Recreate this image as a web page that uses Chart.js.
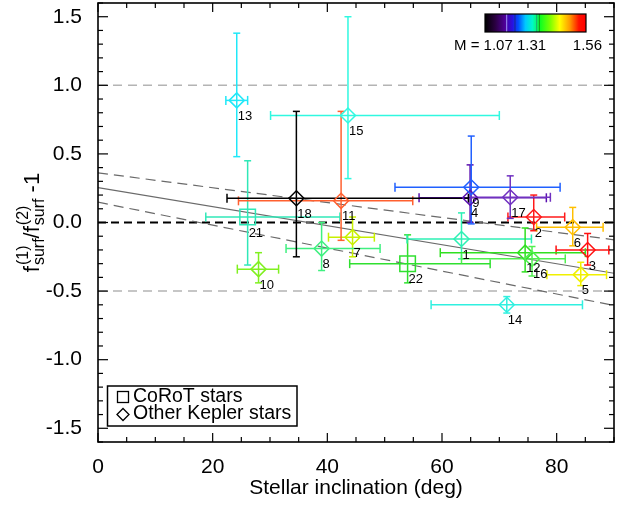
<!DOCTYPE html>
<html><head><meta charset="utf-8">
<script src="https://cdn.jsdelivr.net/npm/chart.js@4.4.0/dist/chart.umd.min.js"></script>
<style>html,body{margin:0;padding:0;background:#fff;}#wrap{width:627px;height:506px;}</style>
</head><body><div id="wrap"><canvas id="c" width="627" height="506"></canvas></div>
<script>
// ---------- data ----------
const keplerIds    = ['1','2','3','4','5','6','7','8','9','10','11','12','13','14','15','16','17','18'];
const keplerIncl   = [63.4, 76.0, 85.4, 64.9, 84.2, 82.8, 44.4, 39.0, 65.1, 28.0, 42.4, 74.5, 24.2, 71.3, 43.6, 75.7, 71.9, 34.6];
const keplerF      = [-0.12, 0.04, -0.20, 0.18, -0.38, -0.034, -0.107, -0.19, 0.257, -0.34, 0.158, -0.22, 0.89, -0.60, 0.78, -0.265, 0.184, 0.177];
const keplerInclLo = [53.9, 71.5, 79.9, 56.0, 78.3, 76.5, 40.2, 32.8, 51.8, 24.3, 24.5, 59.7, 22.3, 58.1, 30.1, 63.4, 65.1, 22.5];
const keplerInclHi = [75.6, 81.4, 89.1, 78.2, 88.7, 88.1, 48.2, 49.2, 80.6, 31.5, 54.9, 85.0, 26.1, 84.5, 70.0, 81.5, 78.9, 64.6];
const keplerFLo    = [-0.265, -0.06, -0.31, 0.00, -0.46, -0.17, -0.25, -0.35, -0.01, -0.44, -0.13, -0.36, 0.48, -0.66, 0.32, -0.39, 0.03, -0.25];
const keplerFHi    = [0.07, 0.20, -0.08, 0.42, -0.29, 0.11, 0.04, 0.00, 0.63, -0.22, 0.81, -0.04, 1.38, -0.54, 1.50, -0.175, 0.34, 0.81];

const corotIds    = ['21','22'];
const corotIncl   = [26.1, 54.0];
const corotF      = [0.04, -0.30];
const corotInclLo = [18.8, 43.9];
const corotInclHi = [42.2, 68.4];
const corotFLo    = [-0.31, -0.44];
const corotFHi    = [0.45, -0.09];

// reference levels and fit
const refLevels = [1.0, 0.0, -0.5];
const fitX      = [0, 90];
const fitMid    = [0.255, -0.37];
const fitUpper  = [0.362, -0.126];
const fitLower  = [0.148, -0.605];

// ticks
const xTickValues = [0, 20, 40, 60, 80];
const yTickValues = [-1.5, -1.0, -0.5, 0.0, 0.5, 1.0, 1.5];
const colorbarLabels = ['M = 1.07 1.31', '1.56'];

// ---------- styles (kept separate) ----------
const keplerColors = ['#2cf0b4','#ff1a1a','#ff1010','#5a10b0','#f0f000','#ffbf00','#c8f000','#40f080','#2060ff','#80f020','#ff6030','#30e020','#20e8f8','#30f0e0','#30f8e0','#50f050','#7030c0','#000000'];
const corotColors  = ['#30e8b8','#30e030'];
const FONT = "'Liberation Sans', Arial, Helvetica, sans-serif";

function pts(xs, ys){ return xs.map((x,i)=>({x:x, y:ys[i]})); }
function errs(lo, hi, ylo, yhi){ return lo.map((v,i)=>({xl:v, xh:hi[i], yl:ylo[i], yh:yhi[i]})); }

const refColors = ['#b4b4b4','#000000','#b4b4b4'];
const datasets = [];
refLevels.forEach((lv,i)=>{
  datasets.push({type:'line', data: fitX.map(x=>({x:x,y:lv})), borderColor: refColors[i],
    borderWidth: i===1?2:1.5, borderDash: i===1?[8,5]:[9,6], pointRadius:0, fill:false, order:5});
});
datasets.push({type:'line', data: pts(fitX, fitMid), borderColor:'#6a6a6a', borderWidth:1.2, pointRadius:0, order:4});
datasets.push({type:'line', data: pts(fitX, fitUpper), borderColor:'#6a6a6a', borderWidth:1.2, borderDash:[10,6], pointRadius:0, order:4});
datasets.push({type:'line', data: pts(fitX, fitLower), borderColor:'#6a6a6a', borderWidth:1.2, borderDash:[10,6], pointRadius:0, order:4});
datasets.push({type:'scatter', label:'CoRoT stars', data: pts(corotIncl, corotF), ids: corotIds,
  errors: errs(corotInclLo, corotInclHi, corotFLo, corotFHi), colors: corotColors,
  pointStyle:'rect', pointRadius:11, pointBorderWidth:1.5, pointBorderColor: corotColors,
  pointBackgroundColor:'rgba(0,0,0,0)', order:1});
datasets.push({type:'scatter', label:'Other Kepler stars', data: pts(keplerIncl, keplerF), ids: keplerIds,
  errors: errs(keplerInclLo, keplerInclHi, keplerFLo, keplerFHi), colors: keplerColors,
  pointStyle:'rectRot', pointRadius:7.5, pointBorderWidth:1.5, pointBorderColor: keplerColors,
  pointBackgroundColor:'rgba(0,0,0,0)', order:0});

function line(ctx,x1,y1,x2,y2){ ctx.beginPath(); ctx.moveTo(x1,y1); ctx.lineTo(x2,y2); ctx.stroke(); }

const errorBars = {
  id:'errorBars',
  beforeDatasetDraw(chart, args){
    const ds = chart.data.datasets[args.index];
    if(!ds.errors) return;
    const {ctx, scales:{x,y}, chartArea:a} = chart;
    ctx.save();
    ctx.beginPath(); ctx.rect(a.left, a.top, a.right-a.left, a.bottom-a.top); ctx.clip();
    ctx.lineWidth = 1.5;
    ds.errors.forEach((e,i)=>{
      ctx.strokeStyle = ds.colors[i];
      const px = x.getPixelForValue(ds.data[i].x), py = y.getPixelForValue(ds.data[i].y);
      const xl = x.getPixelForValue(e.xl), xh = x.getPixelForValue(e.xh);
      const yl = y.getPixelForValue(e.yl), yh = y.getPixelForValue(e.yh);
      line(ctx, xl, py, xh, py);
      line(ctx, xl, py-4.5, xl, py+4.5);
      line(ctx, xh, py-4.5, xh, py+4.5);
      line(ctx, px, yl, px, yh);
      line(ctx, px-3.5, yl, px+3.5, yl);
      line(ctx, px-3.5, yh, px+3.5, yh);
    });
    ctx.restore();
  },
  afterDatasetsDraw(chart){
    const {ctx, scales:{x,y}} = chart;
    ctx.save();
    ctx.fillStyle = '#000';
    ctx.font = '13px ' + FONT;
    ctx.textAlign = 'left'; ctx.textBaseline = 'middle';
    chart.data.datasets.forEach(ds=>{
      if(!ds.ids) return;
      ds.data.forEach((p,i)=>{
        ctx.fillText(ds.ids[i], x.getPixelForValue(p.x)+1, y.getPixelForValue(p.y)+16);
      });
    });
    ctx.restore();
  }
};

const frame = {
  id:'frame',
  afterDraw(chart){
    const {ctx, chartArea:a, scales:{x,y}} = chart;
    ctx.save();
    ctx.strokeStyle = '#000';
    ctx.lineWidth = 1.2;
    for(let v=0; v<=90; v+=5){
      const px = x.getPixelForValue(v); const len = (v%20===0)?9:5;
      line(ctx, px, a.bottom, px, a.bottom-len);
      line(ctx, px, a.top, px, a.top+len);
    }
    for(let i=-16;i<=16;i++){
      const py = y.getPixelForValue(i/10); const len = (i%5===0)?10:5;
      line(ctx, a.left, py, a.left+len, py);
      line(ctx, a.right, py, a.right-len, py);
    }
    ctx.lineWidth = 1.6;
    ctx.strokeRect(a.left, a.top, a.right-a.left, a.bottom-a.top);

    // y-axis title with super/subscripts
    ctx.save();
    ctx.translate(39, (a.top+a.bottom)/2);
    ctx.rotate(-Math.PI/2);
    ctx.fillStyle = '#000';
    ctx.textBaseline = 'alphabetic'; ctx.textAlign = 'left';
    const big = '22px ' + FONT, small = '16px ' + FONT;
    const segs = [
      {t:'f'}, {sup:'(1)', sub:'surf'}, {t:'/'}, {t:'f'}, {sup:'(2)', sub:'surf'}, {t:' -1'}
    ];
    let total = 0;
    const widths = segs.map(s=>{
      let w;
      if(s.t!==undefined){ ctx.font = big; w = ctx.measureText(s.t).width; }
      else { ctx.font = small; w = Math.max(ctx.measureText(s.sup).width, ctx.measureText(s.sub).width) + 1; }
      total += w; return w;
    });
    let cx = -total/2;
    segs.forEach((s,i)=>{
      if(s.t!==undefined){ ctx.font = big; ctx.fillText(s.t, cx, 0); }
      else { ctx.font = small; ctx.fillText(s.sup, cx+1, -11); ctx.fillText(s.sub, cx+1, 5); }
      cx += widths[i];
    });
    ctx.restore();

    // colorbar
    const cbx = 485, cby = 14, cbw = 101, cbh = 18;
    const g = ctx.createLinearGradient(cbx, 0, cbx+cbw, 0);
    [[0,'#000000'],[0.1,'#2a0040'],[0.2,'#50009a'],[0.27,'#2a10e0'],[0.33,'#0050ff'],[0.4,'#00c8ff'],
     [0.47,'#00f8c8'],[0.55,'#10ff20'],[0.65,'#80ff00'],[0.74,'#ffff00'],[0.84,'#ff9a00'],[0.93,'#ff1000'],[1,'#ff0000']]
     .forEach(s=>g.addColorStop(s[0], s[1]));
    ctx.fillStyle = g;
    ctx.fillRect(cbx, cby, cbw, cbh);
    ctx.lineWidth = 1;
    [[0.215,'rgba(170,170,255,0.9)'],[0.297,'rgba(20,40,120,0.8)'],[0.512,'rgba(30,140,120,0.8)'],[0.538,'rgba(20,120,20,0.8)']]
      .forEach(m=>{ ctx.strokeStyle = m[1]; line(ctx, cbx+m[0]*cbw, cby, cbx+m[0]*cbw, cby+cbh); });
    ctx.strokeStyle = '#000'; ctx.lineWidth = 1.2;
    ctx.strokeRect(cbx, cby, cbw, cbh);
    ctx.fillStyle = '#000';
    ctx.font = '15px ' + FONT; ctx.textBaseline = 'middle';
    ctx.textAlign = 'left'; ctx.fillText(colorbarLabels[0], 454, 46);
    ctx.textAlign = 'right'; ctx.fillText(colorbarLabels[1], 602, 46);

    // legend
    ctx.lineWidth = 1.5; ctx.strokeStyle = '#000';
    ctx.strokeRect(107.5, 386, 189.5, 40);
    ctx.lineWidth = 1.3;
    ctx.strokeRect(117.5, 391.5, 11, 11);
    ctx.beginPath(); ctx.moveTo(117, 414.5); ctx.lineTo(123, 408.5); ctx.lineTo(129, 414.5); ctx.lineTo(123, 420.5); ctx.closePath(); ctx.stroke();
    ctx.font = '19.5px ' + FONT; ctx.textAlign = 'left'; ctx.textBaseline = 'middle';
    ctx.fillText(chart.data.datasets[6].label, 133, 396.5);
    ctx.fillText(chart.data.datasets[7].label, 133, 413.5);
    ctx.restore();
  }
};

new Chart(document.getElementById('c'), {
  type:'scatter',
  data:{datasets:datasets},
  plugins:[errorBars, frame],
  options:{
    responsive:false, animation:false, devicePixelRatio:1,
    layout:{autoPadding:false, padding:{top:3, right:13, left:0, bottom:0}},
    plugins:{legend:{display:false}, tooltip:{enabled:false}},
    scales:{
      x:{type:'linear', min:0, max:90,
        afterBuildTicks(s){ s.ticks = xTickValues.map(v=>({value:v})); },
        afterFit(s){ s.height = 64; s.paddingLeft = 0; s.paddingRight = 0; },
        grid:{display:false}, border:{display:false},
        ticks:{color:'#000', font:{family:FONT, size:21, lineHeight:1.2}, padding:5, maxRotation:0},
        title:{display:true, text:'Stellar inclination (deg)', color:'#000', font:{family:FONT, size:21, lineHeight:1.2}, padding:{top:0,bottom:5}}
      },
      y:{type:'linear', min:-1.6, max:1.6,
        afterBuildTicks(s){ s.ticks = yTickValues.map(v=>({value:v})); },
        afterFit(s){ s.width = 98; s.paddingTop = 0; s.paddingBottom = 0; },
        grid:{display:false}, border:{display:false},
        ticks:{color:'#000', font:{family:FONT, size:21, lineHeight:0.25}, padding:8,
          callback:(v)=>Number(v).toFixed(1)}
      }
    }
  }
});
</script></body></html>
